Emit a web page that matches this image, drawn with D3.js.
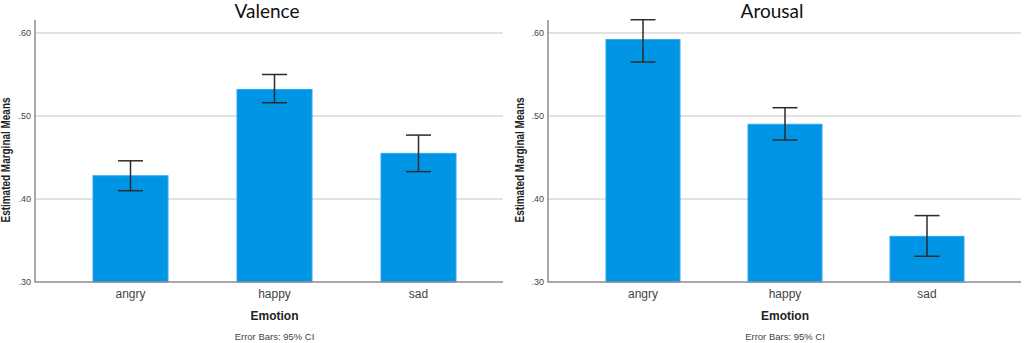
<!DOCTYPE html>
<meta charset="utf-8">
<style>
    body { margin: 0; background: #fff; }
    text { font-family: "Liberation Sans Narrow", "Arial Narrow", "Liberation Sans", sans-serif; }
    .grid line { stroke: #d9d9d9; stroke-width: 1.5px; }
    .frame { stroke: #8c8c8c; stroke-width: 1.5px; fill: none; }
    .bar { fill: #0095e4; stroke: #2aa8f0; stroke-width: 1px; }
    .err { stroke: #2b2b2b; stroke-width: 1.5px; fill: none; }
    .title { font-family: Lato, "Open Sans", sans-serif; font-size: 19px; fill: #111; }
    .tickY { font-size: 9px; fill: #444; }
    .tickX { font-size: 12px; fill: #444; }
    .axisTitle { font-size: 12px; font-weight: bold; fill: #222; }
    .note { font-size: 9.5px; fill: #444; }
</style>
<body>
    <svg width="1024" height="343"></svg>
</body>
<script src="https://d3js.org/d3.v7.min.js"></script>
<script>

    // data
    var emotions = ["angry", "happy", "sad"];
    var yTicks = [0.30, 0.40, 0.50, 0.60];

    var valenceMean  = [0.428, 0.532, 0.455];
    var valenceLower = [0.410, 0.516, 0.433];
    var valenceUpper = [0.446, 0.550, 0.477];

    var arousalMean  = [0.592, 0.490, 0.355];
    var arousalLower = [0.565, 0.471, 0.331];
    var arousalUpper = [0.616, 0.510, 0.380];

    var svg = d3.select("svg");

    // y scale is shared by both panels (same pixel rows)
    var yScale = d3.scaleLinear()
            .domain([0.30, 0.60])
            .range([282, 33]);
    var yTop = 0.6157;       // axis runs a bit above .60

    var fmt = function (d) { return d3.format(".2f")(d).replace(/^0/, ""); };

    function drawPanel(opt) {
        var g = svg.append("g");
        var x0 = opt.left, x1 = opt.right;

        var xScale = d3.scalePoint()
                .domain(emotions)
                .range([x0 + opt.padL, x1 - opt.padR]);

        // gridlines
        g.append("g").attr("class", "grid")
                .selectAll("line")
                .data(yTicks.slice(1))
                .enter().append("line")
                .attr("x1", x0).attr("x2", x1)
                .attr("y1", function (d) { return yScale(d); })
                .attr("y2", function (d) { return yScale(d); });

        // bars
        g.selectAll(".bar")
                .data(opt.mean)
                .enter().append("rect")
                .attr("class", "bar")
                .attr("x", function (d, i) { return xScale(emotions[i]) - opt.barW / 2; })
                .attr("y", function (d) { return yScale(d); })
                .attr("width", opt.barW)
                .attr("height", function (d) { return yScale(0.30) - yScale(d); });

        // error bars
        var eb = g.selectAll(".errG")
                .data(opt.mean)
                .enter().append("g")
                .attr("class", "errG");
        eb.append("line").attr("class", "err")
                .attr("x1", function (d, i) { return xScale(emotions[i]); })
                .attr("x2", function (d, i) { return xScale(emotions[i]); })
                .attr("y1", function (d, i) { return yScale(opt.lower[i]); })
                .attr("y2", function (d, i) { return yScale(opt.upper[i]); });
        [opt.lower, opt.upper].forEach(function (arr) {
            eb.append("line").attr("class", "err")
                    .attr("x1", function (d, i) { return xScale(emotions[i]) - 12.5; })
                    .attr("x2", function (d, i) { return xScale(emotions[i]) + 12.5; })
                    .attr("y1", function (d, i) { return yScale(arr[i]); })
                    .attr("y2", function (d, i) { return yScale(arr[i]); });
        });

        // axis frame (left + bottom)
        g.append("path").attr("class", "frame")
                .attr("d", "M" + x0 + "," + yScale(yTop) + "V" + yScale(0.30) + "H" + x1);

        // y tick labels
        g.selectAll(".tickY")
                .data(yTicks)
                .enter().append("text")
                .attr("class", "tickY")
                .attr("x", x0 - 4)
                .attr("y", function (d) { return yScale(d) + 3; })
                .style("text-anchor", "end")
                .text(fmt);

        // x tick labels
        g.selectAll(".tickX")
                .data(emotions)
                .enter().append("text")
                .attr("class", "tickX")
                .attr("x", function (d) { return xScale(d); })
                .attr("y", 298)
                .style("text-anchor", "middle")
                .text(function (d) { return d; });

        var midX = (xScale.range()[0] + xScale.range()[1]) / 2;

        g.append("text").attr("class", "axisTitle")
                .attr("x", midX).attr("y", 320)
                .style("text-anchor", "middle")
                .text("Emotion");

        g.append("text").attr("class", "note")
                .attr("x", midX).attr("y", 340)
                .style("text-anchor", "middle")
                .text("Error Bars: 95% CI");

        g.append("text").attr("class", "axisTitle")
                .attr("transform", "translate(" + opt.yTitleX + ",160) rotate(-90)")
                .style("text-anchor", "middle")
                .attr("textLength", 125)
                .attr("lengthAdjust", "spacingAndGlyphs")
                .text("Estimated Marginal Means");

        g.append("text").attr("class", "title")
                .attr("x", opt.titleX).attr("y", 18)
                .style("text-anchor", "middle")
                .text(opt.title);
    }

    drawPanel({
        title: "Valence", titleX: 267,
        left: 35, right: 503, padL: 95.5, padR: 84.5, barW: 75, yTitleX: 10,
        mean: valenceMean, lower: valenceLower, upper: valenceUpper
    });

    drawPanel({
        title: "Arousal", titleX: 772,
        left: 548, right: 1021, padL: 95, padR: 94, barW: 74, yTitleX: 524,
        mean: arousalMean, lower: arousalLower, upper: arousalUpper
    });
</script>
